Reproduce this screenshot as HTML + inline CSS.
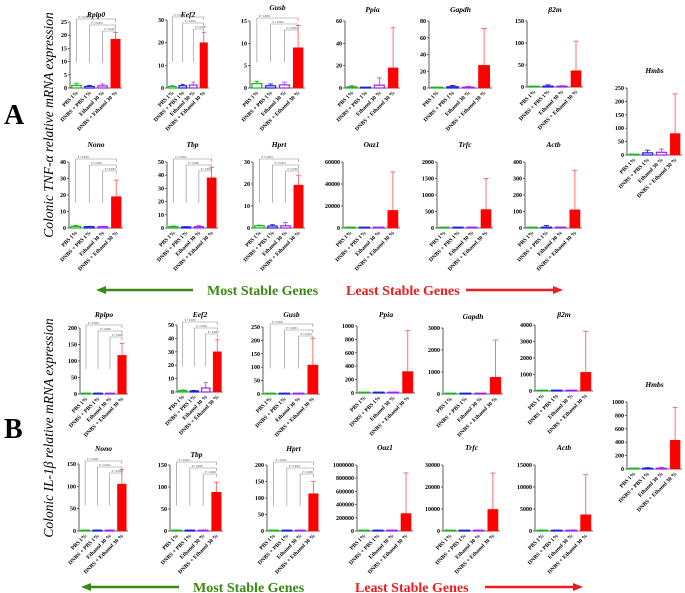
<!DOCTYPE html>
<html><head><meta charset="utf-8"><style>
body{margin:0;background:#fff;}
svg{display:block;font-family:"Liberation Serif",serif;}
</style></head><body>
<svg id="fig" width="685" height="593" viewBox="0 0 685 593">
<text x="4" y="124" font-size="28" font-weight="bold">A</text>
<text x="4" y="438" font-size="28" font-weight="bold">B</text>
<text transform="translate(53,125) rotate(-90)" text-anchor="middle" font-size="13.5" font-style="italic">Colonic TNF-α relative mRNA expression</text>
<text transform="translate(53,428) rotate(-90)" text-anchor="middle" font-size="13.5" font-style="italic">Colonic IL-1β relative mRNA expression</text>
<g>
<line x1="103" y1="290" x2="193" y2="290" stroke="#3a8a12" stroke-width="2.5"/><polygon points="96,290 106,286 106,294" fill="#3a8a12"/>
<text x="207" y="295" font-size="14" font-weight="bold" fill="#3a8a12">Most Stable Genes</text>
<text x="346" y="295" font-size="14" font-weight="bold" fill="#ee1c1c">Least Stable Genes</text>
<line x1="466" y1="290" x2="555" y2="290" stroke="#ee1c1c" stroke-width="2.5"/><polygon points="563,290 553,286 553,294" fill="#ee1c1c"/>
</g>
<g>
<line x1="88" y1="587" x2="179" y2="587" stroke="#3a8a12" stroke-width="2.5"/><polygon points="81,587 91,583 91,591" fill="#3a8a12"/>
<text x="193" y="592" font-size="14" font-weight="bold" fill="#3a8a12">Most Stable Genes</text>
<text x="355" y="592" font-size="14" font-weight="bold" fill="#ee1c1c">Least Stable Genes</text>
<line x1="485" y1="587" x2="575" y2="587" stroke="#ee1c1c" stroke-width="2.5"/><polygon points="583,587 573,583 573,591" fill="#ee1c1c"/>
</g>
</svg>
<script>
const groups = ["PBS 1%", "DNBS + PBS 1%", "Ethanol 30 %", "DNBS + Ethanol 30 %"];
// TNF-alpha (A) values and SD
const aRplp0 = [1, 0.6, 0.8, 18.5], aRplp0Err = [1.8, 1, 1.5, 21];
const aEef2 = [0.7, 1, 1.3, 20], aEef2Err = [1, 1.6, 2.6, 24.5];
const aGusb = [1, 0.5, 0.7, 9], aGusbErr = [1.5, 0.9, 1.3, 14];
const aPpia = [1, 0.3, 2.5, 18], aPpiaErr = [2, 0.5, 9, 54];
const aGapdh = [0.5, 1.5, 1, 27], aGapdhErr = [1, 3, 2, 71];
const aB2m = [0.5, 2, 1, 37], aB2mErr = [1, 5, 3, 104];
const aHmbs = [1, 8, 10, 80], aHmbsErr = [2, 18, 22, 228];
const aNono = [1, 0.8, 0.8, 19], aNonoErr = [1.5, 1, 1, 29];
const aTbp = [1, 0.8, 1, 38], aTbpErr = [1.5, 1, 2, 46];
const aHprt = [1, 0.9, 1, 19.5], aHprtErr = [1.3, 1.5, 2.5, 24];
const aOaz1 = [100, 100, 200, 16000], aOaz1Err = [200, 200, 500, 51000];
const aTrfc = [5, 5, 5, 560], aTrfcErr = [10, 10, 20, 1500];
const aActb = [1, 5, 5, 110], aActbErr = [2, 15, 5, 350];
// IL-1beta (B) values and SD
const bRplpo = [1, 1, 1, 117], bRplpoErr = [2, 2, 2, 153];
const bEef2 = [1, 0.8, 3, 30], bEef2Err = [1.5, 1.2, 7, 39];
const bGusb = [1, 1, 1, 108], bGusbErr = [2, 2, 2, 208];
const bPpia = [2, 1, 5, 320], bPpiaErr = [5, 3, 10, 930];
const bGapdh = [5, 5, 10, 760], bGapdhErr = [10, 10, 20, 2450];
const bB2m = [5, 5, 20, 1130], bB2mErr = [10, 10, 40, 3620];
const bHmbs = [2, 10, 12, 430], bHmbsErr = [5, 20, 25, 920];
const bNono = [1, 1, 1, 105], bNonoErr = [2, 2, 2, 138];
const bTbp = [1, 1, 1, 88], bTbpErr = [2, 2, 2, 111];
const bHprt = [1, 1, 1, 113], bHprtErr = [2, 2, 2, 150];
const bOaz1 = [500, 500, 1000, 265000], bOaz1Err = [1000, 1000, 2000, 880000];
const bTrfc = [20, 20, 50, 9800], bTrfcErr = [50, 50, 100, 26300];
const bActb = [10, 10, 30, 3700], bActbErr = [20, 20, 60, 12800];
// tick labels
const ticks25 = [0,5,10,15,20,25], ticks30by10=[0,10,20,30], ticks15=[0,5,10,15], ticks60=[0,20,40,60],
 ticks80=[0,20,40,60,80], ticks150=[0,50,100,150], ticks250=[0,50,100,150,200,250], ticks40=[0,10,20,30,40],
 ticks50=[0,10,20,30,40,50], ticks60k=[0,20000,40000,60000], ticks2000=[0,500,1000,1500,2000], ticks400=[0,100,200,300,400],
 ticks200=[0,50,100,150,200], ticks50b=[0,10,20,30,40,50], ticksB250=[0,50,100,150,200,250], ticks1000=[0,200,400,600,800,1000],
 ticks3000=[0,1000,2000,3000], ticks4000=[0,1000,2000,3000,4000], ticksB150=[0,50,100,150], ticks1M=[0,200000,400000,600000,800000,1000000],
 ticks30k=[0,10000,20000,30000], ticks15k=[0,5000,10000,15000];
const pLabels = ["P < 0.0001","P < 0.0001","P < 0.0001"];

const panels = [
 {id:"a-rplp0",t:"Rplp0",v:aRplp0,e:aRplp0Err,tk:ticks25,x0:70,x1:122,top:22,base:88,ty:17,sig:1},
 {id:"a-eef2",t:"Eef2",v:aEef2,e:aEef2Err,tk:ticks30by10,x0:167,x1:209,top:20,base:88,ty:17,sig:1},
 {id:"a-gusb",t:"Gusb",v:aGusb,e:aGusbErr,tk:ticks15,x0:250,x1:305,top:21,base:88,ty:10,sig:1},
 {id:"a-ppia",t:"Ppia",v:aPpia,e:aPpiaErr,tk:ticks60,x0:345,x1:400,top:21,base:88,ty:12,sig:0},
 {id:"a-gapdh",t:"Gapdh",v:aGapdh,e:aGapdhErr,tk:ticks80,x0:429,x1:492,top:21,base:88,ty:12,sig:0},
 {id:"a-b2m",t:"β2m",v:aB2m,e:aB2mErr,tk:ticks150,x0:527,x1:583,top:21,base:87,ty:12,sig:0},
 {id:"a-hmbs",t:"Hmbs",v:aHmbs,e:aHmbsErr,tk:ticks250,x0:627,x1:682,top:88,base:155,ty:73,sig:0},
 {id:"a-nono",t:"Nono",v:aNono,e:aNonoErr,tk:ticks40,x0:69,x1:123,top:162,base:228,ty:147,sig:1},
 {id:"a-tbp",t:"Tbp",v:aTbp,e:aTbpErr,tk:ticks50,x0:167,x1:218,top:162,base:228,ty:147,sig:1},
 {id:"a-hprt",t:"Hprt",v:aHprt,e:aHprtErr,tk:ticks30by10,x0:253,x1:305,top:162,base:228,ty:147,sig:1},
 {id:"a-oaz1",t:"Oaz1",v:aOaz1,e:aOaz1Err,tk:ticks60k,x0:343,x1:400,top:162,base:228,ty:147,sig:0},
 {id:"a-trfc",t:"Trfc",v:aTrfc,e:aTrfcErr,tk:ticks2000,x0:437,x1:493,top:162,base:228,ty:147,sig:0},
 {id:"a-actb",t:"Actb",v:aActb,e:aActbErr,tk:ticks400,x0:525,x1:582,top:162,base:228,ty:147,sig:0},
 {id:"b-rplpo",t:"Rplpo",v:bRplpo,e:bRplpoErr,tk:ticks200,x0:80,x1:128,top:328,base:394,ty:317,sig:1},
 {id:"b-eef2",t:"Eef2",v:bEef2,e:bEef2Err,tk:ticks50b,x0:177,x1:223,top:325,base:392,ty:317,sig:1},
 {id:"b-gusb",t:"Gusb",v:bGusb,e:bGusbErr,tk:ticksB250,x0:263,x1:320,top:327,base:394,ty:317,sig:1},
 {id:"b-ppia",t:"Ppia",v:bPpia,e:bPpiaErr,tk:ticks1000,x0:357,x1:415,top:326,base:393,ty:317,sig:0},
 {id:"b-gapdh",t:"Gapdh",v:bGapdh,e:bGapdhErr,tk:ticks3000,x0:443,x1:503,top:328,base:394,ty:319,sig:0},
 {id:"b-b2m",t:"β2m",v:bB2m,e:bB2mErr,tk:ticks4000,x0:535,x1:593,top:325,base:391,ty:317,sig:0},
 {id:"b-hmbs",t:"Hmbs",v:bHmbs,e:bHmbsErr,tk:ticks1000,x0:627,x1:682,top:402,base:469,ty:387,sig:0},
 {id:"b-nono",t:"Nono",v:bNono,e:bNonoErr,tk:ticksB150,x0:79,x1:128,top:464,base:531,ty:451,sig:1},
 {id:"b-tbp",t:"Tbp",v:bTbp,e:bTbpErr,tk:ticksB150,x0:170,x1:223,top:465,base:531,ty:457,sig:1},
 {id:"b-hprt",t:"Hprt",v:bHprt,e:bHprtErr,tk:ticks200,x0:267,x1:320,top:465,base:531,ty:451,sig:1},
 {id:"b-oaz1",t:"Oaz1",v:bOaz1,e:bOaz1Err,tk:ticks1M,x0:357,x1:413,top:465,base:531,ty:450,sig:0},
 {id:"b-trfc",t:"Trfc",v:bTrfc,e:bTrfcErr,tk:ticks30k,x0:443,x1:500,top:465,base:531,ty:450,sig:0},
 {id:"b-actb",t:"Actb",v:bActb,e:bActbErr,tk:ticks15k,x0:535,x1:593,top:465,base:531,ty:450,sig:0}
];
const colors = ["#19b31b","#1d1ddd","#a020f0","#ff0000"];
const errColors = ["#19b31b","#1d1ddd","#b050f0","#ff6060"];
const NS="http://www.w3.org/2000/svg";
const svg=document.getElementById("fig");
function mk(tag,attrs,parent){const el=document.createElementNS(NS,tag);for(const k in attrs)el.setAttribute(k,attrs[k]);parent.appendChild(el);return el;}
panels.forEach(p=>{
 const g=mk("g",{},svg);
 
 
 const max=p.tk[p.tk.length-1];
 const y=v=>p.base-(v/max)*(p.base-p.top);
 const slot=(p.x1-p.x0)/4;
 const xc=i=>p.x0+slot*(i+0.5);
 const title=mk("text",{x:(p.x0+p.x1)/2,y:p.ty,"text-anchor":"middle","font-size":"7.5","font-style":"italic","font-weight":"bold"},g);
 title.textContent=p.t;
 
 
 mk("line",{x1:p.x0,y1:p.top,x2:p.x0,y2:p.base,stroke:"#333","stroke-width":"0.8"},g);
 mk("line",{x1:p.x0,y1:p.base,x2:p.x1,y2:p.base,stroke:"#333","stroke-width":"0.8"},g);
 p.tk.forEach(t=>{
  mk("line",{x1:p.x0-2,y1:y(t),x2:p.x0,y2:y(t),stroke:"#333","stroke-width":"0.7"},g);
  const tl=mk("text",{x:p.x0-3,y:y(t)+2,"text-anchor":"end","font-size":"6","font-weight":"bold"},g);
  tl.textContent=t;
  
  
 });
 p.v.forEach((v,i)=>{
  const bw=slot*0.72;
  const etop=y(p.e[i]);
  mk("line",{x1:xc(i),y1:etop,x2:xc(i),y2:y(v),stroke:errColors[i],"stroke-width":"0.9"},g);
  mk("line",{x1:xc(i)-bw*0.25,y1:etop,x2:xc(i)+bw*0.25,y2:etop,stroke:errColors[i],"stroke-width":"0.9"},g);
  const h=Math.max(p.base-y(v),0.8);
  const r=mk("rect",{x:xc(i)-bw/2,y:p.base-h,width:bw,height:h,fill:i===3?colors[i]:"none",stroke:colors[i],"stroke-width":i===3?"0.5":"1.2"},g);
  
  
  const lab=mk("text",{transform:`translate(${xc(i)+2},${p.base+5}) rotate(-45)`,"text-anchor":"end","font-size":"5.6","font-weight":"bold"},g);
  lab.textContent=groups[i];
  
  
 });
 if(p.sig){
  const H=p.base-p.top;
  const drop=p.top+H*0.62;
  [0,1,2].forEach(j=>{
   const L=p.top-3+j*6;
   mk("polyline",{points:`${xc(j)},${drop} ${xc(j)},${L} ${xc(3)},${L} ${xc(3)},${L+3}`,fill:"none",stroke:"#888","stroke-width":"0.6"},g);
   const st=mk("text",{x:xc(j)+2,y:L-0.8,"font-size":"2.6",fill:"#444"},g);
   st.textContent=pLabels[j];
   
   
  });
 }
});
</script>
</body></html>
